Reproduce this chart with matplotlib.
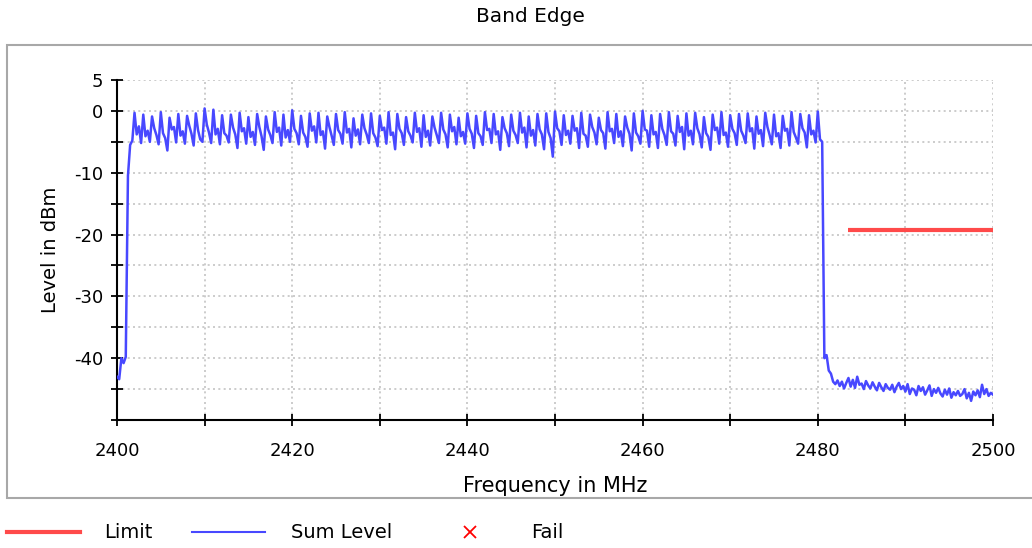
import numpy as np
import matplotlib
matplotlib.use("Agg")
import matplotlib.pyplot as plt
from matplotlib.lines import Line2D
from matplotlib.patches import Rectangle

# ---------------- data ----------------
freq_start = 2400.0   # MHz, sweep start
freq_step = 0.25      # MHz, sweep step

# level before the band (2400.00 .. 2401.25)
level_lead = [-43.0, -43.4, -40.0, -40.8, -39.8, -10.5]

# in-band level (2401.5 .. 2480.25), 2 MHz per row
level_band = [
    -5.5, -4.8, -0.3, -3.8, -2.5, -5.2, -0.6, -4.1,
    -3.2, -5.0, -0.9, -2.8, -3.9, -5.4, -0.2, -3.6,
    -4.4, -6.4, -1.1, -3.0, -2.6, -5.1, -0.5, -4.0,
    -3.3, -5.3, -0.8, -2.4, -3.7, -5.6, -0.4, -3.1,
    -4.6, -5.0, 0.4, -2.2, -3.5, -5.2, 0.2, -3.8,
    -2.9, -5.4, -0.7, -3.6, -4.0, -5.1, -0.6, -2.7,
    -3.8, -6.0, -0.3, -3.3, -2.8, -5.3, -1.0, -4.2,
    -3.4, -5.5, -0.5, -2.6, -4.1, -6.3, -0.9, -3.0,
    -3.9, -5.2, -0.2, -3.4, -2.7, -5.6, -0.6, -4.3,
    -3.1, -5.0, 0.1, -2.9, -3.6, -5.4, -0.8, -3.5,
    -4.2, -5.8, -0.4, -3.2, -2.5, -5.1, -0.3, -3.9,
    -3.3, -6.1, -0.9, -2.6, -4.0, -5.5, -0.5, -3.1,
    -3.7, -5.3, -0.2, -3.5, -2.9, -5.9, -1.2, -4.0,
    -3.0, -5.4, -0.6, -2.8, -3.8, -5.2, -0.4, -3.6,
    -4.3, -5.7, -0.8, -3.1, -2.7, -5.3, -0.2, -3.9,
    -3.5, -6.2, -0.5, -2.9, -3.6, -5.5, -1.0, -3.3,
    -4.0, -5.1, -0.3, -3.4, -2.8, -5.8, -0.7, -4.2,
    -3.2, -5.6, -0.9, -2.7, -3.9, -5.2, -0.3, -3.0,
    -3.8, -5.9, -0.6, -3.3, -2.6, -5.4, -1.1, -4.1,
    -3.4, -5.3, -0.4, -2.9, -3.7, -6.0, -0.8, -3.6,
    -4.1, -5.5, -0.2, -3.1, -2.9, -5.2, -0.5, -3.8,
    -3.3, -6.3, -1.0, -2.8, -3.6, -5.7, -0.6, -3.2,
    -3.9, -5.2, -0.3, -3.5, -2.7, -5.9, -0.9, -4.0,
    -3.1, -5.6, -0.5, -3.0, -3.8, -6.2, -0.4, -3.4,
    -4.4, -7.4, -0.1, -2.8, -3.3, -5.5, -0.7, -3.9,
    -3.2, -5.3, -0.8, -3.2, -2.8, -6.0, -0.3, -3.7,
    -4.0, -5.8, -0.6, -2.6, -3.5, -5.4, -1.1, -3.1,
    -3.6, -6.1, -0.2, -3.3, -2.9, -5.2, -0.5, -4.2,
    -3.3, -5.7, -0.9, -2.7, -3.7, -6.4, -0.4, -3.5,
    -4.1, -5.3, 0.0, -3.0, -3.2, -5.8, -0.7, -3.8,
    -3.4, -6.0, -0.5, -2.9, -3.9, -5.5, -0.2, -3.3,
    -3.7, -5.6, -0.8, -3.4, -2.6, -6.2, -0.4, -4.0,
    -3.2, -5.4, -0.3, -2.8, -3.8, -5.9, -1.0, -3.6,
    -4.2, -6.3, -0.6, -3.1, -2.7, -5.3, -0.2, -3.9,
    -3.5, -5.8, -0.7, -2.9, -3.6, -5.5, -0.5, -3.2,
    -4.0, -5.2, -0.4, -3.3, -2.8, -6.1, -0.9, -3.7,
    -3.1, -5.7, -0.3, -2.6, -3.9, -5.4, -0.6, -4.1,
    -3.6, -6.0, -0.8, -3.2, -2.9, -5.6, -0.2, -3.4,
    -4.3, -5.3, -0.5, -2.8, -3.5, -5.9, -0.7, -3.8,
    -3.2, -5.1, -0.1, -4.6,
]

# band-edge roll-off (2480.5 .. 2481.75)
level_edge = [-5.0, -40.0, -39.5, -42.0, -42.5, -43.8]

# out-of-band level (2482.0 .. 2500.0), 2 MHz per row
level_tail = [
    -44.2, -43.6, -44.5, -43.8, -44.9, -44.0, -43.2, -44.6,
    -43.5, -44.8, -43.0, -44.3, -44.1, -45.0, -43.7, -44.4,
    -44.9, -43.9, -44.6, -45.2, -44.0, -44.7, -45.3, -44.2,
    -44.8, -45.1, -44.3, -45.5, -44.6, -44.0, -45.0, -44.5,
    -45.4, -44.2, -45.8, -44.9, -45.1, -46.0, -44.5, -45.3,
    -44.7, -45.9, -45.2, -44.4, -46.1, -45.0, -45.6, -44.8,
    -45.7, -46.2, -45.1, -45.9, -44.9, -46.4, -45.5, -46.0,
    -45.3, -46.1, -45.8, -45.0, -46.5, -45.6, -46.9, -45.4,
    -46.0, -45.2, -46.3, -44.3, -45.8, -45.0, -46.1, -45.6,
    -45.9,
]

limit_freq = [2483.5, 2500.0]
limit_level = [-19.2, -19.2]

x_ticks = [2400, 2410, 2420, 2430, 2440, 2450, 2460, 2470, 2480, 2490, 2500]
x_labels = ["2400", "", "2420", "", "2440", "", "2460", "", "2480", "", "2500"]
y_ticks = [-50, -45, -40, -35, -30, -25, -20, -15, -10, -5, 0, 5]
y_labels = ["", "", "-40", "", "-30", "", "-20", "", "-10", "", "0", "5"]

sum_level = np.array(level_lead + level_band + level_edge + level_tail)
freq = freq_start + freq_step * np.arange(len(sum_level))

# ---------------- figure ----------------
W, H = 1032, 548
fig = plt.figure(figsize=(W / 100, H / 100), dpi=100)
fig.patch.set_facecolor("white")

def fx(px):
    return px / W

def fy(py):
    return 1 - py / H

# outer frame
fig.add_artist(Rectangle((fx(7), fy(498)), fx(1100 - 7), fy(45) - fy(498),
                         transform=fig.transFigure, facecolor="white",
                         edgecolor="#a8a8a8", linewidth=1.5, zorder=0))

ax = fig.add_axes([fx(117), fy(420), fx(993 - 117), fy(80) - fy(420)])
ax.set_facecolor("white")

blue = "#4848ff"
red = "#ff4a4a"

ax.plot(freq, sum_level, color=blue, linewidth=1.8, zorder=3)
ax.plot(limit_freq, limit_level, color=red, linewidth=3, zorder=4,
        solid_capstyle="butt")

ax.set_xlim(2400, 2500)
ax.set_ylim(-50, 5)
ax.set_xticks(x_ticks)
ax.set_xticklabels(x_labels)
ax.set_yticks(y_ticks)
ax.set_yticklabels(y_labels)

ax.grid(True, color="#c4c4c4", linestyle=(0, (1.2, 2.0)), linewidth=1.2)
ax.set_axisbelow(True)

for s in ["top", "right"]:
    ax.spines[s].set_visible(False)
for s in ["left", "bottom"]:
    ax.spines[s].set_color("black")
    ax.spines[s].set_linewidth(1.5)

ax.tick_params(axis="both", direction="inout", length=8, width=1.3,
               colors="black", labelsize=13)
ax.tick_params(axis="y", pad=6)
ax.tick_params(axis="x", pad=12)

ax.set_xlabel("Frequency in MHz", fontsize=15, labelpad=11)
ax.set_ylabel("Level in dBm", fontsize=14, labelpad=10)

fig.text(fx(530), fy(17), "Band Edge", ha="center", va="center", fontsize=14.5)

# legend below the frame
ly = fy(532)
fig.add_artist(Line2D([fx(7), fx(80)], [ly, ly], transform=fig.transFigure,
                      color=red, linewidth=3))
fig.text(fx(104), ly, "Limit", ha="left", va="center", fontsize=14)
fig.add_artist(Line2D([fx(192), fx(265)], [ly, ly], transform=fig.transFigure,
                      color=blue, linewidth=1.5))
fig.text(fx(291), ly, "Sum Level", ha="left", va="center", fontsize=14)
fig.add_artist(Line2D([fx(470)], [ly], transform=fig.transFigure, marker="x",
                      markersize=9, markeredgewidth=1.3, color="red",
                      linestyle="none"))
fig.text(fx(531), ly, "Fail", ha="left", va="center", fontsize=14)

fig.savefig("out.png", dpi=100)
